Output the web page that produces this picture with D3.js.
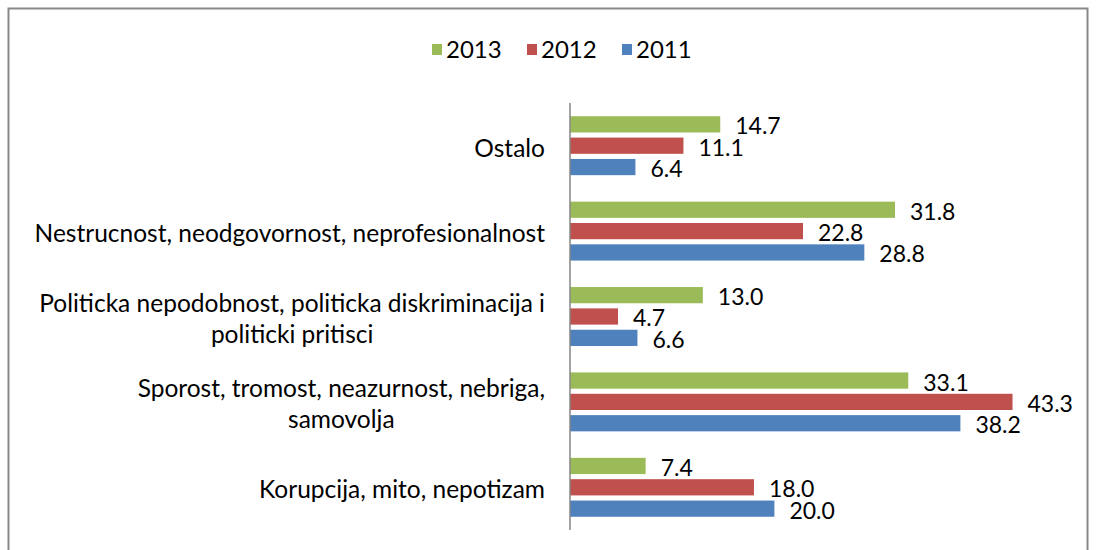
<!DOCTYPE html>
<html>
<head>
<meta charset="utf-8">
<script src="https://cdn.jsdelivr.net/npm/d3@7"></script>
<style>
  body { margin: 0; background: #fff; }
  svg text { font-family: Lato, "Liberation Sans", Arial, sans-serif; fill: #000; }
</style>
</head>
<body>
<svg id="chart" width="1096" height="550"></svg>
<script>
// categories, top to bottom (line breaks as in the original chart)
const categories = [
  ['Ostalo'],
  ['Nestrucnost, neodgovornost, neprofesionalnost'],
  ['Politicka nepodobnost, politicka diskriminacija i', 'politicki pritisci'],
  ['Sporost, tromost, neazurnost, nebriga,', 'samovolja'],
  ['Korupcija, mito, nepotizam'],
];
const seriesNames = ['2013', '2012', '2011'];
const values2013 = [14.7, 31.8, 13.0, 33.1, 7.4];
const values2012 = [11.1, 22.8, 4.7, 43.3, 18.0];
const values2011 = [6.4, 28.8, 6.6, 38.2, 20.0];
const seriesColors = ['#9BBB59', '#C0504D', '#4F81BD'];

const seriesValues = [values2013, values2012, values2011];
const data = categories.map((lines, i) => ({
  key: lines.join(' '),
  lines: lines,
  values: seriesNames.map((s, j) => ({ series: s, value: seriesValues[j][i] })),
}));

const svg = d3.select('#chart');
const margin = { top: 103, left: 570, bottom: 530 };

// outer frame
svg.append('rect')
  .attr('x', 8.5).attr('y', 8.5)
  .attr('width', 1079).attr('height', 560)
  .attr('fill', 'none')
  .attr('stroke', '#898989')
  .attr('stroke-width', 2);

const xScale = d3.scaleLinear().domain([0, 50]).range([margin.left, 1081]);
const yScale = d3.scaleBand()
  .domain(data.map((d) => d.key))
  .range([margin.top, margin.bottom]);
const innerScale = d3.scaleBand()
  .domain(seriesNames)
  .range([0, yScale.bandwidth()])
  .paddingInner(0.24)
  .paddingOuter(0.62);
const colorScale = d3.scaleOrdinal().domain(seriesNames).range(seriesColors);

// legend
const legend = svg.append('g').attr('class', 'legend');
const legendX = [432, 527, 622];
seriesNames.forEach((s, i) => {
  legend.append('rect')
    .attr('x', legendX[i]).attr('y', 44)
    .attr('width', 10).attr('height', 11)
    .attr('fill', colorScale(s));
  legend.append('text')
    .attr('x', legendX[i] + 14).attr('y', 58)
    .style('font-size', '24px')
    .text(s);
});

// bars
const groups = svg.selectAll('.group')
  .data(data)
  .join('g')
  .attr('class', 'group')
  .attr('transform', (d) => `translate(0,${yScale(d.key)})`);

groups.selectAll('rect')
  .data((d) => d.values)
  .join('rect')
  .attr('x', xScale(0))
  .attr('y', (d) => innerScale(d.series))
  .attr('width', (d) => xScale(d.value) - xScale(0))
  .attr('height', innerScale.bandwidth())
  .attr('fill', (d) => colorScale(d.series));

groups.selectAll('.value-label')
  .data((d) => d.values)
  .join('text')
  .attr('class', 'value-label')
  .attr('x', (d) => xScale(d.value) + 15)
  .attr('y', (d) => innerScale(d.series) + innerScale.bandwidth() / 2 + 10)
  .style('font-size', '23px')
  .text((d) => d.value.toFixed(1));

// category labels, multi-line centred inside a right-aligned block
groups.each(function (d) {
  const g = d3.select(this);
  const lineH = 31;
  const cy = yScale.bandwidth() / 2 + 11 - ((d.lines.length - 1) * lineH) / 2;
  const t = g.append('text')
    .style('font-size', '24.5px')
    .attr('text-anchor', 'middle');
  const spans = d.lines.map((line, i) =>
    t.append('tspan').attr('y', cy + i * lineH).text(line)
  );
  const maxW = d3.max(spans, (s) => s.node().getComputedTextLength());
  spans.forEach((s) => s.attr('x', 545 - maxW / 2));
});

// vertical category axis line
svg.append('line')
  .attr('x1', xScale(0)).attr('x2', xScale(0))
  .attr('y1', margin.top).attr('y2', margin.bottom)
  .attr('stroke', '#868686')
  .attr('stroke-width', 1.5);
</script>
</body>
</html>
